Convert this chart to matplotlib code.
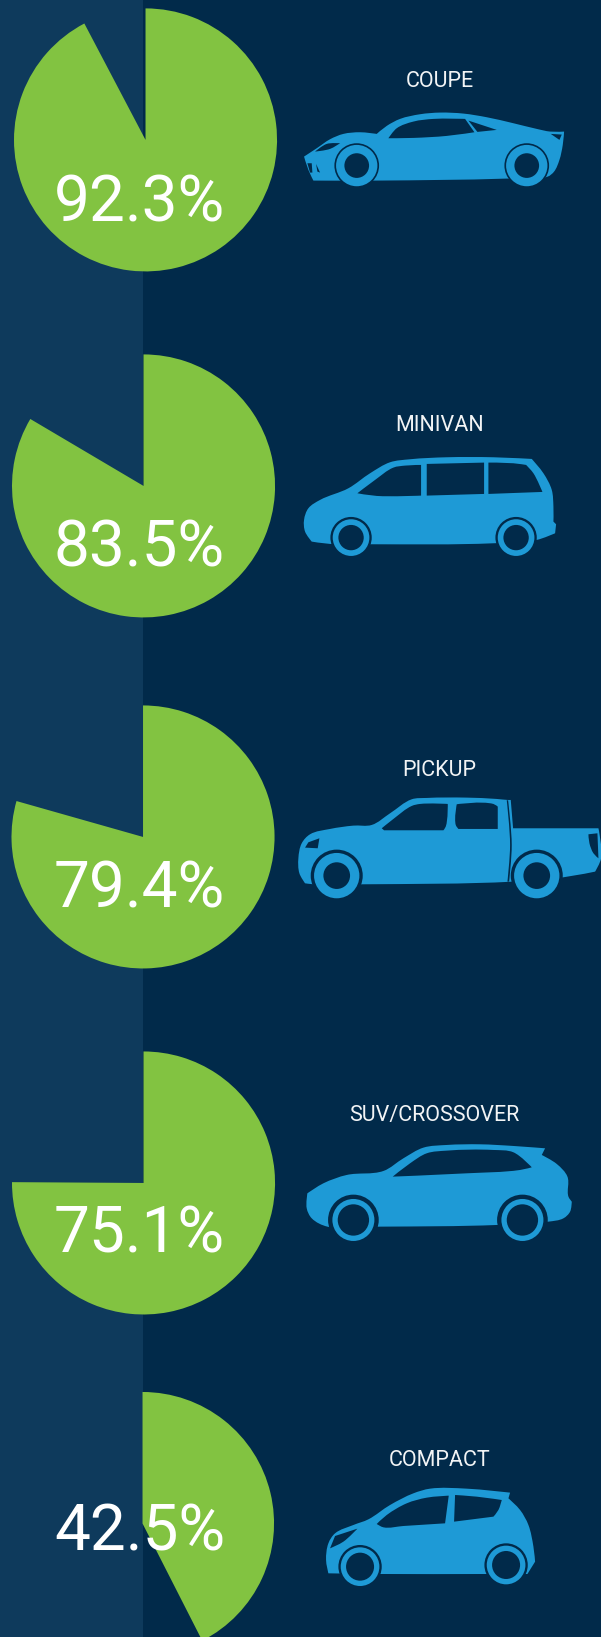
import numpy as np
import matplotlib
matplotlib.use('Agg')
import matplotlib.pyplot as plt
from matplotlib.path import Path
from matplotlib.patches import PathPatch, Circle, Rectangle

labels = ['COUPE', 'MINIVAN', 'PICKUP', 'SUV/CROSSOVER', 'COMPACT']
values = [92.3, 83.5, 79.4, 75.1, 42.5]

BG = '#012a4a'
BAND = '#0e3a5c'
GREEN = '#82c341'
BLUE = '#1e9ad6'

W, H = 601, 1637
pie_x = [145.5, 143.5, 143, 143.5, 142.5]
pie_y = [140, 486, 837, 1183, 1523.5]
pie_r = 131.5
text_y = [197, 541.5, 883, 1228, 1525.5]
label_x = [439.7, 439, 439.5, 434, 439]
label_y = [79, 423, 768, 1113, 1458]

coupe = dict(
    origin=(280, 50),
    body=[(100, 392), (85, 360), (72, 320), (110, 295), (150, 268), (190, 252), (240, 247), (290, 252),
          (320, 228), (360, 207), (420, 193), (480, 188), (550, 191), (620, 202), (700, 220), (770, 237),
          (810, 245), (852, 245), (848, 285), (838, 330), (822, 365), (803, 380), (680, 386), (290, 392)],
    holes=[[(325, 265), (350, 235), (400, 215), (460, 207), (555, 207), (583, 247), (500, 258), (400, 264)],
           [(565, 212), (650, 240), (592, 246)],
           [(105, 305), (140, 282), (180, 280), (150, 297)],
           [(812, 252), (845, 254), (838, 270)],
           [(82, 340), (95, 340), (97, 368), (90, 368)],
           [(108, 342), (120, 368), (112, 365)]],
    wheels=[(230, 347, 67, 62, 37), (740, 347, 67, 62, 37)])
minivan = dict(
    origin=(280, 400),
    body=[(95, 425), (75, 395), (72, 360), (85, 325), (120, 300), (205, 265), (270, 220), (330, 187),
          (390, 178), (500, 172), (640, 172), (755, 177), (790, 220), (815, 270), (820, 320), (820, 365),
          (828, 373), (825, 400), (770, 420), (640, 430), (275, 433), (150, 432)],
    holes=[[(232, 280), (285, 240), (340, 203), (375, 197), (423, 195), (423, 287), (290, 288)],
           [(440, 192), (612, 188), (612, 282), (440, 287)],
           [(625, 188), (700, 190), (738, 195), (760, 220), (787, 276), (625, 282)]],
    wheels=[(213, 413, 62, 55, 38), (708, 413, 62, 55, 38)])
pickup = dict(
    origin=(280, 745),
    body=[(75, 415), (58, 385), (55, 340), (65, 295), (90, 268), (150, 252), (220, 242), (275, 240),
          (330, 205), (395, 163), (440, 159), (560, 158), (650, 162), (683, 165), (692, 165), (699, 250),
          (955, 250), (963, 340), (945, 380), (850, 397), (700, 410), (250, 418), (100, 418)],
    holes=[[(305, 250), (340, 222), (395, 183), (420, 177), (503, 177), (497, 245), (490, 256), (312, 256)],
           [(530, 178), (640, 177), (653, 185), (653, 252), (535, 252), (527, 240)],
           [(75, 308), (85, 292), (118, 280), (113, 310)],
           [(925, 268), (952, 265), (955, 340), (940, 325), (928, 295)],
           [(680, 166), (684, 166), (695, 300), (687, 410), (682, 410), (690, 300)]],
    wheels=[(170, 392, 78, 68, 40), (770, 392, 78, 68, 40)])
suv = dict(
    origin=(280, 1090),
    body=[(142, 410), (95, 385), (80, 355), (82, 310), (130, 280), (200, 255), (310, 243), (370, 205),
          (430, 173), (500, 165), (600, 163), (700, 168), (795, 175), (785, 195), (830, 222), (862, 260),
          (865, 320), (875, 335), (870, 365), (850, 385), (805, 395), (650, 405), (300, 410)],
    holes=[[(338, 260), (390, 220), (440, 190), (500, 182), (640, 180), (700, 187), (755, 232), (720, 240),
            (560, 250)]],
    wheels=[(220, 390, 76, 63, 47), (727, 390, 76, 63, 47)])
compact = dict(
    origin=(280, 1440),
    body=[(145, 400), (138, 360), (145, 310), (165, 280), (220, 255), (265, 238), (330, 195), (400, 160),
          (450, 146), (560, 146), (690, 158), (685, 175), (720, 210), (745, 255), (760, 320), (765, 365),
          (742, 402), (620, 402), (300, 402)],
    holes=[[(290, 252), (320, 225), (380, 190), (440, 173), (506, 167), (495, 250), (370, 258), (310, 262)],
           [(525, 165), (590, 170), (665, 180), (655, 210), (640, 230), (522, 245)],
           [(150, 325), (165, 288), (232, 266), (190, 305)]],
    wheels=[(240, 380, 65, 58, 42), (678, 375, 65, 58, 42)])
cars = [coupe, minivan, pickup, suv, compact]


def smooth_path(points, origin, corner_deg=38):
    """closed curve through the traced points, sharp bends stay sharp"""
    pts = np.array(points, dtype=float) / 3 + origin
    n = len(pts)
    tangents = np.zeros_like(pts)
    for i in range(n):
        a = pts[i] - pts[i - 1]
        b = pts[(i + 1) % n] - pts[i]
        a = a / np.linalg.norm(a)
        b = b / np.linalg.norm(b)
        bend = np.degrees(np.arccos(np.clip(a @ b, -1, 1)))
        if bend < corner_deg:
            tangents[i] = (a + b) / np.linalg.norm(a + b)
    verts = [pts[0]]
    codes = [Path.MOVETO]
    for i in range(n):
        j = (i + 1) % n
        seg = np.linalg.norm(pts[j] - pts[i]) / 3
        verts += [pts[i] + tangents[i] * seg, pts[j] - tangents[j] * seg, pts[j]]
        codes += [Path.CURVE4, Path.CURVE4, Path.CURVE4]
    return Path(verts, codes)


def draw_car(ax, car):
    origin = np.array(car['origin'], dtype=float)
    ax.add_patch(PathPatch(smooth_path(car['body'], origin), fc=BLUE, ec='none'))
    for hole in car['holes']:
        ax.add_patch(PathPatch(smooth_path(hole, origin), fc=BG, ec='none'))
    for x, y, arch, tyre, hub in car['wheels']:
        centre = (origin[0] + x / 3, origin[1] + y / 3)
        ax.add_patch(Circle(centre, arch / 3, fc=BG, ec='none'))
        ax.add_patch(Circle(centre, tyre / 3, fc=BLUE, ec='none'))
        ax.add_patch(Circle(centre, hub / 3, fc=BG, ec='none'))


fig = plt.figure(figsize=((W + 0.1) / 100, (H + 0.1) / 100), dpi=100, facecolor=BG)
ax = fig.add_axes([0, 0, 1, 1], facecolor=BG)
ax.add_patch(Rectangle((0, 0), 143, H, fc=BAND, ec='none'))

# y axis is flipped, so "counterclockwise" from -90 reads clockwise from 12 o'clock
for i, value in enumerate(values):
    wedges, _ = ax.pie([value, 100 - value], colors=[GREEN, 'none'], startangle=-90, counterclock=True,
                       center=(pie_x[i], pie_y[i]), radius=pie_r, frame=True)
    wedges[1].set_visible(False)
    ax.text(139.5, text_y[i], '%.1f%%' % value, color='white', fontsize=46, family='Roboto',
            ha='center', va='center_baseline', zorder=5)
    ax.text(label_x[i], label_y[i], labels[i], color='#f2f4f5', fontsize=15.5, family='Roboto',
            ha='center', va='center_baseline', zorder=5)
    draw_car(ax, cars[i])

ax.set_xlim(0, W)
ax.set_ylim(H, 0)
ax.set_aspect('auto')
ax.axis('off')
fig.savefig('out.png', dpi=100, facecolor=BG)
